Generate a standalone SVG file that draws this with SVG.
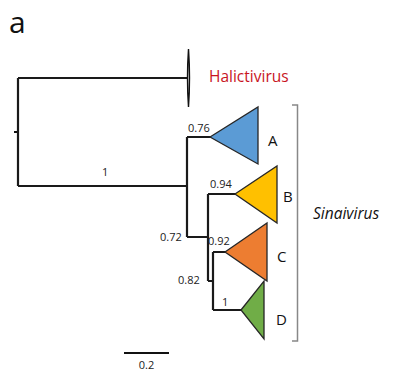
<svg xmlns="http://www.w3.org/2000/svg" width="394" height="383" viewBox="0 0 394 383">
<style>
.br{fill:none;stroke:#1a1a1a;stroke-width:2.2}
.tri{stroke:#262626;stroke-width:1.3;stroke-linejoin:miter}
.lbl{font-family:"Open Sans","Liberation Sans",sans-serif;font-size:11px;fill:#222}
.cl{font-family:"Open Sans","Liberation Sans",sans-serif;font-size:15px;fill:#111}
</style>
<rect width="394" height="383" fill="#fff"/>
<text x="9" y="33" font-family="Open Sans, Liberation Sans, sans-serif" font-size="30" fill="#111">a</text>
<g id="connectors">
<path class="br" d="M18,78 V186 M18,78 H188 M18,186 H188"/>
<path d="M14,132 h3" stroke="#111" stroke-width="2"/>
<path class="br" d="M187,137 V237 M187,137 H211 M187,237 H208"/>
<path class="br" d="M208,194 V281 M208,194 H236 M208,281 H213"/>
<path class="br" d="M213,252 V310 M213,252 H226 M213,310 H242"/>
</g>
<g id="halictivirus">
<path d="M188.5,49 Q186.5,78 188.5,107 Q190.5,78 188.5,49 Z" fill="#fff" stroke="#111" stroke-width="1.4"/>
<text x="209" y="82" font-family="Open Sans, Liberation Sans, sans-serif" font-size="15.5" fill="#c8141e">Halictivirus</text>
</g>
<g id="A">
<polygon class="tri" points="210,137 258,107 258,164" fill="#5b9bd5"/>
<text class="lbl" x="188" y="132">0.76</text>
<text class="cl" x="268" y="146">A</text>
</g>
<g id="B">
<polygon class="tri" points="235,194 277,166 277,223" fill="#ffc000"/>
<text class="lbl" x="210" y="188">0.94</text>
<text class="cl" x="283" y="202">B</text>
</g>
<g id="C">
<polygon class="tri" points="225,252 267,223 267,281" fill="#ed7d31"/>
<text class="lbl" x="160" y="241">0.72</text>
<text class="lbl" x="208" y="245">0.92</text>
<text class="cl" x="277" y="262">C</text>
</g>
<g id="D">
<polygon class="tri" points="241,310 264,281 264,339" fill="#70ad47"/>
<text class="lbl" x="178" y="284">0.82</text>
<text class="lbl" x="222" y="306">1</text>
<text class="cl" x="276" y="325">D</text>
</g>
<g id="root-label">
<text class="lbl" x="102" y="176">1</text>
</g>
<g id="sinaivirus">
<path d="M292,105 H297.5 V341 H292" fill="none" stroke="#888" stroke-width="1.5"/>
<text x="313" y="219" font-family="Open Sans, Liberation Sans, sans-serif" font-size="15.5" font-style="italic" fill="#111">Sinaivirus</text>
</g>
<g id="scale">
<path d="M124,353 H169" stroke="#111" stroke-width="2"/>
<text class="lbl" x="146.5" y="369" text-anchor="middle">0.2</text>
</g>
</svg>
